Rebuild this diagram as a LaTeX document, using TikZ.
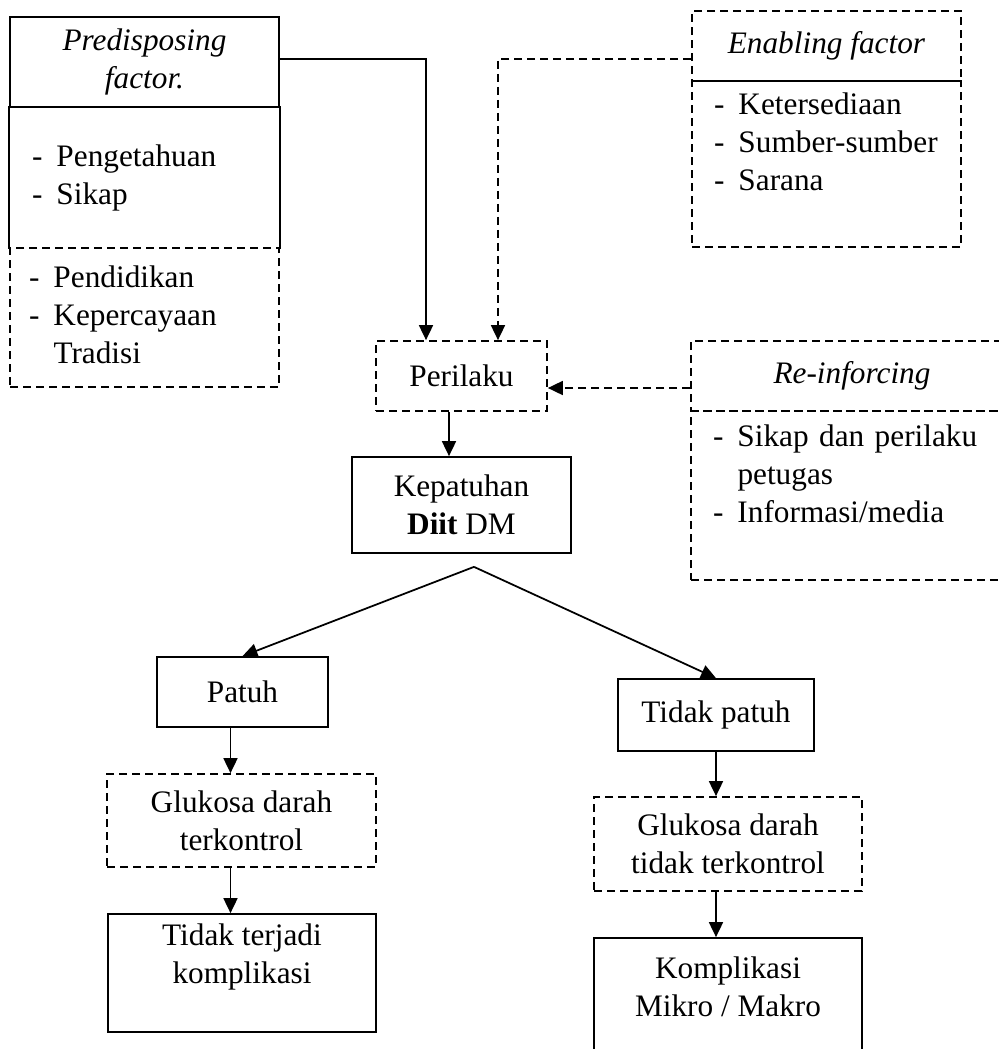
\documentclass[tikz,border=0pt]{standalone}
\usepackage{fontspec}
\setmainfont{Liberation Serif}
\usetikzlibrary{arrows.meta}

\newcommand{\faktorlist}[1]{\begin{tabular}{@{}l@{\hspace{0.45em}}l@{}}#1\end{tabular}}

\tikzset{
  solidbox/.style={draw, align=center},
  dashbox/.style={draw, dash pattern=on 0.16cm off 0.1cm, align=center},
  listbox/.style={align=left, inner xsep=0.44cm},
}

\begin{document}
\begin{tikzpicture}[x=0.02cm,y=-0.02cm,>={Triangle[length=3mm,width=2.8mm]},line width=1pt,
  font=\fontsize{17.8}{21.6}\selectfont]
 \useasboundingbox (0,0) rectangle (999,1049);
 \clip (0,0) rectangle (999,1049);
 % predisposing factor
 \node[solidbox, minimum width=5.38cm, minimum height=1.8cm] (predH) at (144.5,62) {\textit{Predisposing}\\\textit{factor.}};
 \node[listbox, text width=4.5cm, minimum height=2.82cm] (predB) at (144.5,177.5) {\faktorlist{- & Pengetahuan\\- & Sikap}};
 \draw (predB.north west) -- (predB.south west) (predB.north east) -- (predB.south east);
 \node[dashbox, listbox, inner xsep=0.38cm, text width=4.62cm, minimum height=2.78cm] (predC) at (144.5,317.5)
   {\faktorlist{- & Pendidikan\\- & Kepercayaan\\ & Tradisi}};
 % enabling factor
 \node[dashbox, minimum width=5.38cm, minimum height=1.4cm] (enH) at (826.5,46) {\textit{Enabling factor}};
 \node[dashbox, listbox, text width=4.5cm, minimum height=3.32cm] (enB) at (826.5,164)
   {\faktorlist{- & Ketersediaan\\- & Sumber-sumber\\- & Sarana\\ & }};
 % re-inforcing
 \node[dashbox, minimum width=6.44cm, minimum height=1.4cm] (reH) at (852,376) {\textit{Re-inforcing}};
 \node[dashbox, listbox, text width=5.56cm, minimum height=3.38cm] (reB) at (852,495.5)
   {\faktorlist{- & Sikap dan perilaku\\ & petugas\\- & Informasi/media\\ & }};
 % main chain
 \node[dashbox, minimum width=3.42cm, minimum height=1.4cm] (peri) at (461.5,376) {Perilaku};
 \node[solidbox, minimum width=4.38cm, minimum height=1.92cm] (kep) at (461.5,505) {Kepatuhan\\\textbf{Diit} DM};
 \coordinate (split) at ([xshift=0.25cm,yshift=-0.26cm]kep.south);
 % left branch
 \node[solidbox, minimum width=3.42cm, minimum height=1.4cm] (patuh) at (242.5,692) {Patuh};
 \node[dashbox, minimum width=5.38cm, minimum height=1.86cm] (gluA) at (241.5,820.5) {Glukosa darah\\terkontrol};
 \node[solidbox, minimum width=5.36cm, minimum height=2.36cm] (tkomp) at (242,973) {Tidak terjadi\\komplikasi\\ };
 % right branch
 \node[solidbox, minimum width=3.92cm, minimum height=1.44cm] (tpatuh) at (716,715) {Tidak patuh};
 \node[dashbox, minimum width=5.36cm, minimum height=1.88cm] (gluB) at (728,844) {Glukosa darah\\tidak terkontrol};
 \node[solidbox, minimum width=5.36cm, minimum height=2.72cm] (komp) at (728,1006) {Komplikasi\\Mikro / Makro\\ };
 % connectors
 \draw[->] ([yshift=0.06cm]predH.east) -| ([xshift=-0.71cm]peri.north);
 \draw[->, dash pattern=on 0.16cm off 0.1cm] ([yshift=-0.26cm]enH.west) -| ([xshift=0.73cm]peri.north);
 \draw[->, dash pattern=on 0.16cm off 0.1cm] ([yshift=-0.24cm]reH.west) -- ([yshift=-0.24cm]peri.east);
 \draw[->] ([xshift=-0.25cm]peri.south) -- ([xshift=-0.25cm]kep.north);
 \draw[->] (split) -- (patuh.north);
 \draw[->] (split) -- (tpatuh.north);
 \draw[->] ([xshift=-0.24cm]patuh.south) -- ([xshift=-0.24cm]patuh.south |- gluA.north);
 \draw[->] ([xshift=-0.24cm]patuh.south |- gluA.south) -- ([xshift=-0.24cm]patuh.south |- tkomp.north);
 \draw[->] (tpatuh.south) -- (tpatuh.south |- gluB.north);
 \draw[->] (tpatuh.south |- gluB.south) -- (tpatuh.south |- komp.north);
\end{tikzpicture}
\end{document}
